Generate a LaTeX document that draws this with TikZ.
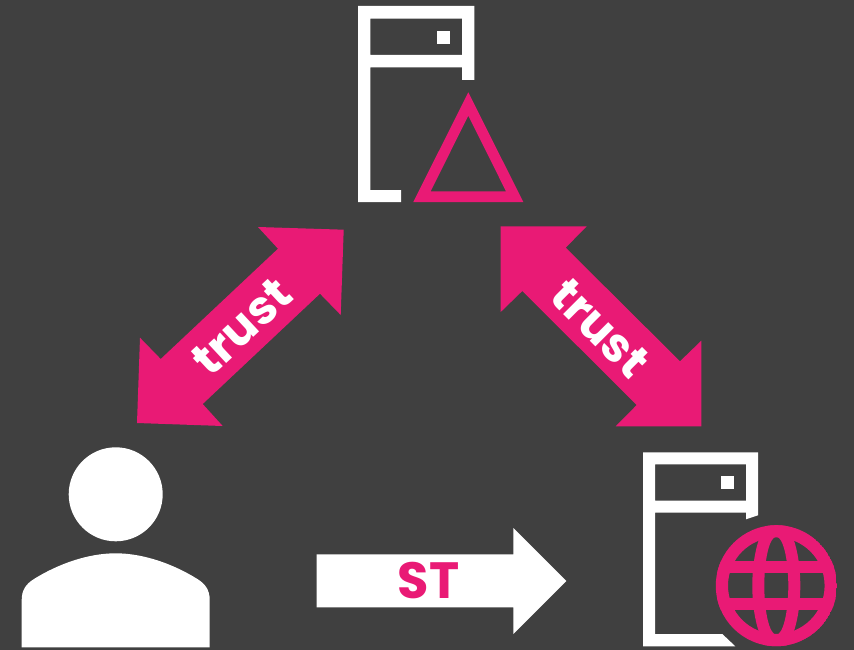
\documentclass[tikz,border=0pt]{standalone}
\usepackage{fontspec}
\setmainfont{Poppins}[BoldFont={Poppins Bold}]
\definecolor{bgc}{HTML}{404040}
\definecolor{pinkc}{HTML}{E91A75}
\tikzset{
  pinkfill/.style={fill=pinkc,draw=none},
  whitefill/.style={fill=white,draw=none},
  trustlabel/.style={text=white,font=\fontsize{47}{47}\selectfont\bfseries,inner sep=0pt},
  stlabel/.style={text=pinkc,font=\fontsize{51}{51}\selectfont\bfseries,inner sep=0pt}
}
\begin{document}
\begin{tikzpicture}[x=1pt,y=-1pt]
\useasboundingbox (0,0) rectangle (854,650);
\fill[bgc] (0,0) rectangle (854,650);
% top server
\path[whitefill,even odd rule] (358,6) -- (474.3,6) -- (474.3,80) -- (462,80) -- (462,67.3) -- (370.3,67.3) -- (370.3,190) -- (401,190) -- (401,202) -- (358,202) -- cycle
  (370.3,18.7) rectangle (462,55);
\path[whitefill] (437,31) rectangle (450,44);
% triangle
\path[pinkfill,even odd rule] (468.3,92.3) -- (523.3,202) -- (413.3,202) -- cycle
  (468.3,115.7) -- (506,191.3) -- (430.7,191.3) -- cycle;
% bottom server
\path[whitefill,even odd rule] (643,452.3) -- (758,452.3) -- (758,515.3) -- (746,519.3) -- (746,512.7) -- (655,512.7) -- (655,634) -- (722.3,634) -- (735.3,646.3) -- (643,646.3) -- cycle
  (655,464.3) rectangle (746,500.7);
\path[whitefill] (721,476) rectangle (734,489);
% globe
\begin{scope}
\clip (776.3,585.7) circle [radius=60.5];
\path[pinkfill,even odd rule] (776.3,585.7) circle [radius=60.5] (776.3,585.7) circle [radius=48.3];
\path[pinkfill,even odd rule] (776.3,585.7) ellipse [x radius=24, y radius=67] (776.3,585.7) ellipse [x radius=12, y radius=49];
\path[pinkfill] (716,561.3) rectangle (837,573.3);
\path[pinkfill] (716,598) rectangle (837,610);
\end{scope}
% person
\path[whitefill] (115.7,494.3) circle [radius=47];
\path[whitefill] (21.7,647.3) -- (21.7,600) .. controls (21.7,590) and (26,584) .. (34,579) .. controls (58,564) and (88,553.3) .. (115.7,553.3) .. controls (143.4,553.3) and (173.4,564) .. (197.4,579) .. controls (205.4,584) and (209.7,590) .. (209.7,600) -- (209.7,647.3) -- cycle;
% trust arrows
\path[pinkfill] (343.7,229.7) -- (258,227) -- (278,248.7) -- (160.7,359) -- (140,337.7) -- (137,423) -- (222.7,426) -- (202.7,404) -- (320,293.7) -- (340.7,315) -- cycle;
\path[pinkfill] (500.7,226.3) -- (586.7,226.3) -- (565.7,247.7) -- (680,361.3) -- (701.3,340.7) -- (701.3,426.3) -- (615.7,426.3) -- (636.7,405) -- (522.3,291) -- (500.7,312) -- cycle;
\node[trustlabel,rotate=43] (trustL) at (241.7,326.7) {trust};
\node[trustlabel,rotate=-45] (trustR) at (600,328.3) {trust};
% ST arrow
\path[whitefill] (316.7,554.3) -- (513.3,554.3) -- (513.3,528) -- (566.3,581) -- (513.3,634) -- (513.3,607.3) -- (316.7,607.3) -- cycle;
\node[stlabel] (st) at (428.7,581) {ST};
\end{tikzpicture}
\end{document}
